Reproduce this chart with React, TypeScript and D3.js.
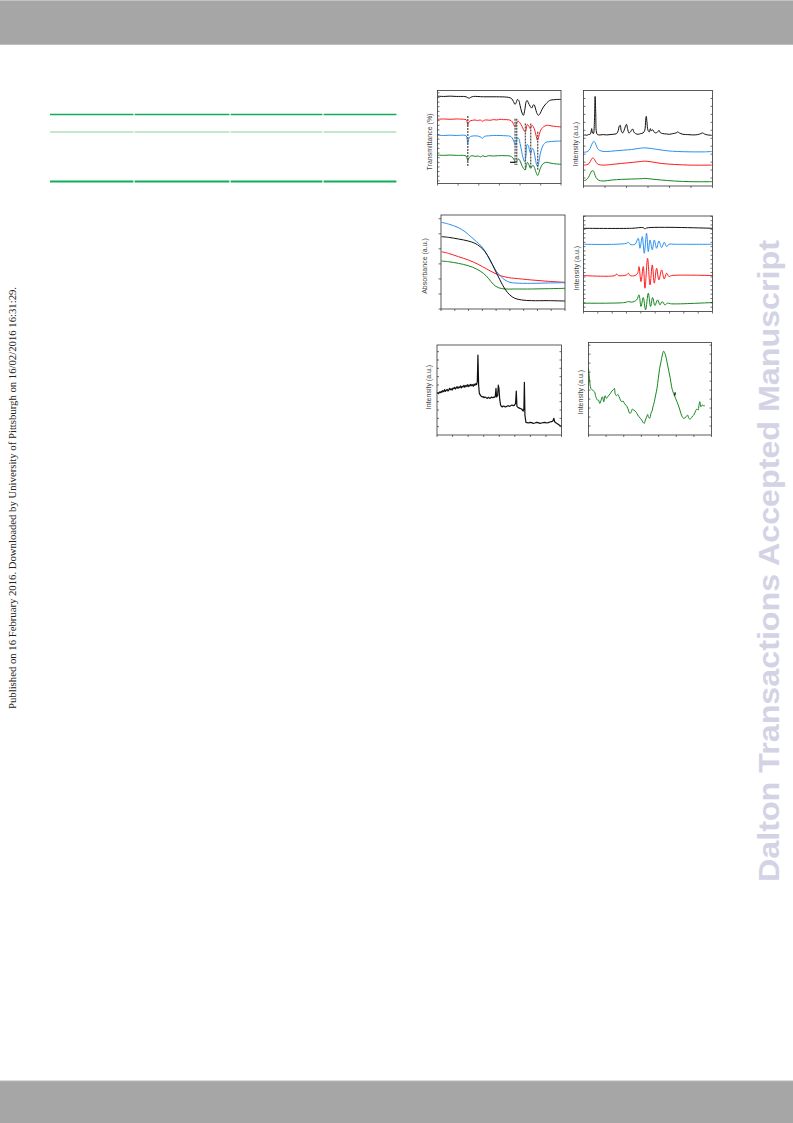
import React, { useRef, useEffect } from 'react';
import * as d3 from 'd3';

type Pt = [number, number];

// ---- panel a: FTIR (wavenumber cm-1, transmittance a.u.)
const irBlack: Pt[] = [
  [4000, 264], [3820, 263], [3620, 264], [3420, 263], [3220, 263], [3140, 262], [3090, 259], [3040, 258],
  [2990, 261], [2920, 263], [2620, 262], [2220, 262], [1920, 261], [1820, 259], [1770, 256], [1720, 248],
  [1670, 239], [1630, 246], [1600, 254], [1560, 251], [1520, 236], [1470, 216], [1420, 206], [1380, 221],
  [1340, 246], [1310, 251], [1270, 244], [1220, 234], [1170, 228], [1130, 236], [1100, 238], [1060, 228],
  [1020, 214], [970, 206], [920, 211], [860, 224], [800, 234], [740, 241], [670, 248], [600, 252],
  [520, 253], [420, 254], [290, 254],
];
const irRed: Pt[] = [
  [4000, 194], [3820, 195], [3620, 194], [3420, 195], [3220, 194], [3140, 193], [3110, 186], [3090, 176],
  [3070, 182], [3040, 188], [3000, 190], [2940, 191], [2870, 192], [2800, 190], [2720, 192], [2640, 188],
  [2600, 191], [2520, 192], [2420, 191], [2320, 193], [2220, 192], [2120, 194], [2020, 193], [1920, 193],
  [1840, 192], [1790, 190], [1750, 186], [1710, 178], [1670, 171], [1640, 178], [1610, 186], [1570, 188],
  [1530, 184], [1490, 178], [1440, 168], [1390, 158], [1360, 156], [1330, 168], [1300, 178], [1260, 174],
  [1220, 166], [1190, 170], [1160, 176], [1120, 171], [1080, 161], [1040, 146], [1000, 131], [960, 141],
  [920, 156], [870, 166], [820, 171], [770, 174], [700, 176], [620, 175], [520, 173], [420, 172], [290, 171],
];
const irBlue: Pt[] = [
  [4000, 146], [3820, 145], [3620, 146], [3420, 145], [3220, 146], [3140, 144], [3110, 134], [3090, 121],
  [3070, 130], [3040, 140], [2970, 143], [2870, 144], [2770, 143], [2700, 140], [2650, 136], [2620, 140],
  [2570, 143], [2470, 144], [2320, 145], [2120, 145], [1920, 144], [1820, 143], [1760, 138], [1710, 128],
  [1660, 116], [1630, 126], [1600, 138], [1560, 136], [1520, 121], [1470, 96], [1420, 74], [1380, 66],
  [1340, 86], [1310, 118], [1270, 114], [1230, 98], [1200, 91], [1170, 101], [1140, 106], [1100, 96],
  [1060, 74], [1020, 56], [990, 51], [950, 68], [910, 91], [860, 108], [810, 118], [750, 124], [670, 126],
  [570, 127], [420, 128], [290, 128],
];
const irGreen: Pt[] = [
  [4000, 86], [3820, 85], [3620, 86], [3420, 85], [3220, 85], [3140, 83], [3110, 76], [3090, 68],
  [3070, 74], [3030, 81], [2970, 84], [2870, 82], [2770, 83], [2700, 80], [2640, 84], [2570, 81],
  [2470, 84], [2320, 83], [2170, 84], [1970, 84], [1820, 83], [1740, 78], [1690, 70], [1640, 64],
  [1600, 71], [1560, 74], [1520, 68], [1470, 56], [1420, 46], [1370, 41], [1330, 54], [1300, 64],
  [1260, 58], [1220, 48], [1190, 46], [1160, 53], [1120, 54], [1080, 46], [1040, 34], [990, 24],
  [950, 34], [910, 46], [860, 56], [800, 62], [720, 64], [620, 62], [520, 60], [420, 59], [290, 58],
];
// guide lines: wavenumber, from, to
const irGuides: [number, number, number][] = [
  [3090, 204, 51], [1670, 196, 56], [1620, 196, 56], [1360, 181, 41], [1200, 181, 46], [990, 156, 41],
];
const irArrow: Pt[] = [[1820, 64], [1660, 64]];
const irTicks = [4000, 3380, 2760, 2140, 1520, 900, 290];

// ---- panel b: XRD (2theta, intensity)
const xrdBlack: Pt[] = [
  [5.0, 153], [5.8, 154], [6.5, 153], [7.3, 155], [8.1, 156], [8.5, 163], [8.8, 173], [9.2, 160], [9.6, 158],
  [10.1, 198], [10.4, 270], [10.7, 218], [11.0, 163], [11.5, 155], [12.7, 154], [14.2, 155], [15.8, 154],
  [17.3, 155], [18.8, 156], [20.4, 158], [21.2, 168], [21.6, 180], [22.1, 183], [22.5, 168], [23.2, 160],
  [23.9, 168], [24.5, 180], [25.0, 186], [25.5, 173], [26.1, 160], [26.7, 162], [27.3, 168], [27.9, 172],
  [28.4, 163], [29.2, 158], [30.4, 156], [31.6, 158], [32.7, 160], [33.5, 168], [33.9, 198], [34.2, 210],
  [34.5, 193], [35.0, 168], [35.6, 163], [36.1, 173], [36.5, 166], [37.2, 170], [37.8, 163], [38.5, 160],
  [39.5, 163], [40.1, 168], [40.7, 161], [41.9, 158], [43.5, 157], [45.0, 156], [46.5, 158], [48.1, 160],
  [48.8, 163], [49.6, 160], [51.2, 156], [53.5, 155], [55.8, 154], [58.1, 155], [59.6, 158], [60.4, 160],
  [61.2, 157], [62.7, 154], [64.7, 153],
];
const xrdBlue: Pt[] = [
  [5.0, 102], [6.5, 103], [7.6, 108], [8.5, 120], [9.2, 130], [9.8, 135], [10.4, 130], [11.2, 118], [11.9, 110],
  [13.5, 105], [15.8, 104], [19.6, 106], [23.5, 108], [27.3, 110], [30.4, 113], [33.5, 115], [36.5, 113],
  [39.6, 110], [44.2, 106], [48.8, 104], [55.0, 103], [61.2, 103], [64.7, 104],
];
const xrdRed: Pt[] = [
  [5.0, 63], [6.5, 64], [7.6, 68], [8.5, 78], [9.3, 85], [10.1, 80], [11.0, 70], [11.9, 65], [14.2, 63],
  [19.6, 66], [25.8, 70], [30.4, 73], [33.5, 75], [36.5, 73], [41.2, 68], [47.3, 65], [55.0, 63], [64.7, 63],
];
const xrdGreen: Pt[] = [
  [5.0, 16], [6.2, 18], [7.3, 26], [8.2, 38], [8.8, 45], [9.5, 46], [10.1, 38], [10.8, 26], [11.9, 18],
  [14.2, 15], [18.1, 18], [22.7, 20], [27.3, 21], [31.9, 22], [33.5, 23], [36.5, 21], [41.2, 18], [47.3, 15],
  [55.0, 13], [64.7, 13],
];
const xrdTicks = [5, 15, 25, 35, 45, 55, 65];

// ---- panel c: UV-vis (nm, absorbance)
const uvBlue: Pt[] = [
  [252, 1.152], [277, 1.13], [313, 1.082], [337, 1.028], [361, 0.953], [379, 0.896], [398, 0.829], [416, 0.727],
  [434, 0.608], [452, 0.496], [468, 0.43], [482, 0.386], [500, 0.355], [518, 0.346], [579, 0.341], [639, 0.346],
  [700, 0.35],
];
const uvBlack: Pt[] = [
  [252, 0.962], [277, 0.953], [313, 0.931], [349, 0.904], [373, 0.874], [392, 0.829], [410, 0.762], [428, 0.652],
  [446, 0.519], [464, 0.386], [482, 0.266], [500, 0.186], [518, 0.142], [543, 0.12], [579, 0.111], [639, 0.111],
  [700, 0.106],
];
const uvRed: Pt[] = [
  [252, 0.762], [277, 0.74], [313, 0.696], [349, 0.652], [385, 0.594], [416, 0.532], [446, 0.474], [470, 0.439],
  [495, 0.417], [518, 0.408], [579, 0.386], [639, 0.368], [700, 0.355],
];
const uvGreen: Pt[] = [
  [252, 0.638], [277, 0.629], [313, 0.607], [349, 0.576], [379, 0.532], [404, 0.474], [422, 0.408], [440, 0.328],
  [458, 0.284], [482, 0.266], [518, 0.266], [579, 0.266], [639, 0.27], [700, 0.275],
];
const uvTicks = [250, 300, 350, 400, 450, 500, 550, 600, 650, 700];
const uvYTicks = [0, 0.2, 0.4, 0.6, 0.8, 1.0, 1.2];

// ---- panel d: EPR (field G, intensity)
const eprBlack: Pt[] = [[2800, 250], [3136, 250], [3217, 252], [3229, 248], [3240, 251], [3700, 250]];
const eprBlue: Pt[] = [
  [2800, 202], [3020, 202], [3101, 205], [3113, 208], [3125, 202], [3159, 202], [3182, 220], [3194, 190],
  [3210, 225], [3224, 175], [3240, 235], [3252, 180], [3264, 215], [3280, 185], [3294, 215], [3310, 190],
  [3326, 212], [3345, 192], [3363, 208], [3380, 195], [3396, 202], [3437, 202], [3700, 202],
];
const eprRed: Pt[] = [
  [2800, 108], [3020, 108], [3032, 113], [3043, 108], [3101, 110], [3113, 115], [3125, 108], [3159, 108],
  [3178, 115], [3187, 135], [3201, 90], [3217, 135], [3229, 70], [3247, 160], [3264, 80], [3280, 140],
  [3294, 85], [3310, 130], [3326, 95], [3345, 125], [3363, 98], [3380, 115], [3396, 105], [3414, 108],
  [3700, 108],
];
const eprGreen: Pt[] = [
  [2800, 25], [3090, 27], [3113, 30], [3136, 28], [3171, 35], [3187, 50], [3201, 15], [3217, 42], [3233, 5],
  [3252, 55], [3268, 15], [3282, 42], [3298, 18], [3317, 35], [3333, 20], [3349, 30], [3368, 20], [3386, 25],
  [3414, 23], [3700, 27],
];
const eprTicks = [2800, 2900, 3000, 3100, 3200, 3300, 3400, 3500, 3600, 3700];

// ---- panel e: Raman (shift cm-1, intensity)
const ramanBlack: Pt[] = [
  [200, 125], [210, 127], [221, 124], [232, 129], [244, 127], [255, 131], [262, 128], [274, 133], [286, 130],
  [297, 136], [309, 131], [318, 134], [330, 137], [341, 132], [352, 135], [363, 140], [372, 136], [384, 138],
  [395, 135], [405, 141], [417, 139], [426, 143], [438, 138], [449, 142], [458, 145], [470, 140], [481, 144],
  [490, 142], [502, 147], [513, 141], [524, 146], [535, 144], [546, 149], [557, 143], [566, 148], [578, 146],
  [589, 151], [600, 145], [611, 150], [622, 147], [633, 152], [644, 148], [655, 151], [666, 146], [677, 153],
  [688, 149], [699, 154], [709, 151], [718, 160], [726, 240], [735, 150], [744, 125], [761, 118],
  [772, 116], [782, 114], [793, 115], [803, 112], [814, 114], [825, 113], [836, 111], [846, 110], [857, 113],
  [868, 112], [879, 110], [889, 111], [900, 114], [910, 113], [921, 112], [932, 114], [941, 113], [949, 116],
  [958, 140], [966, 114], [979, 118], [988, 150], [996, 140], [1005, 110], [1017, 90], [1028, 86], [1039, 84],
  [1052, 87], [1065, 86], [1077, 84], [1090, 85], [1103, 87], [1116, 88], [1129, 86], [1142, 87], [1155, 89],
  [1167, 90], [1180, 88], [1193, 89], [1210, 95], [1219, 132], [1227, 86], [1244, 82],
  [1266, 80], [1287, 78], [1308, 72], [1317, 80], [1323, 158], [1330, 60], [1343, 38], [1358, 37], [1373, 36],
  [1395, 38], [1416, 37], [1437, 35], [1458, 36], [1480, 38], [1501, 37], [1522, 35], [1544, 36], [1566, 37],
  [1587, 38], [1608, 36], [1630, 37], [1651, 39], [1672, 40], [1689, 42], [1702, 50], [1711, 40],
  [1732, 36], [1745, 34], [1758, 32], [1770, 30], [1779, 28], [1800, 27],
];
const ramanTicks = [200, 400, 600, 800, 1000, 1200, 1400, 1600, 1800];

// ---- panel f: emission (nm, intensity)
const plGreen: Pt[] = [
  [330, 200], [333, 170], [337, 140], [342, 135], [348, 130], [352, 115], [357, 105], [360, 105], [364, 95],
  [368, 105], [372, 115], [376, 100], [380, 118], [384, 110], [388, 115], [392, 120], [396, 125], [400, 132],
  [404, 135], [408, 140], [410, 125], [414, 118], [418, 122], [422, 115], [426, 105], [430, 100], [434, 102],
  [438, 95], [442, 90], [446, 85], [450, 75], [454, 65], [458, 68], [462, 78], [466, 75], [470, 72], [474, 68],
  [478, 60], [482, 55], [486, 50], [490, 45], [494, 38], [498, 35], [500, 42], [504, 52], [508, 62], [510, 55],
  [514, 50], [518, 65], [522, 75], [524, 85], [528, 100], [532, 120], [536, 140], [540, 170], [544, 200],
  [548, 220], [552, 240], [556, 252], [560, 245], [564, 230], [568, 210], [572, 190], [576, 170], [580, 145],
  [584, 130], [588, 120], [592, 110], [596, 100], [600, 90], [604, 78], [608, 65], [612, 55], [616, 50],
  [620, 52], [624, 55], [628, 60], [632, 50], [636, 48], [640, 52], [644, 58], [648, 62], [652, 72], [656, 78],
  [660, 75], [662, 88], [665, 100], [668, 85], [672, 90], [676, 88], [680, 88],
];
const plMark: Pt[] = [[589, 118], [591, 128]];
const plTicks = [330, 383, 436, 489, 541, 594, 647, 700];

const tableCols = [50, 134, 230, 323, 397];

const BLACK = '#111';
const RED = '#ff1a1a';
const BLUE = '#2a8ff0';
const GREEN = '#14861c';

interface Series { data: Pt[]; color: string; linear?: boolean; width?: number; }
interface Panel {
  box: [number, number, number, number]; // left, top, right, bottom
  xDomain: [number, number];
  yDomain: [number, number];
  xTicks: number[];
  yTicks: number[];
  yTickOut?: boolean;
  rightTicks?: boolean;
  label: string;
  labelPos: [number, number];
  series: Series[];
}

const panels: Panel[] = [
  {
    box: [437.5, 90.5, 561, 183.5], xDomain: [4000, 290], yDomain: [0, 281],
    xTicks: irTicks, yTicks: d3.range(8, 281, 14), label: 'Transmittance (%)', labelPos: [429, 142],
    series: [
      { data: irBlack, color: BLACK }, { data: irRed, color: RED },
      { data: irBlue, color: BLUE }, { data: irGreen, color: GREEN },
    ],
  },
  {
    box: [583.5, 90.5, 712.5, 186], xDomain: [5, 65], yDomain: [0, 288],
    xTicks: xrdTicks, yTicks: d3.range(24, 288, 24), rightTicks: true, label: 'Intensity (a.u.)', labelPos: [575, 144],
    series: [
      { data: xrdBlack, color: BLACK }, { data: xrdBlue, color: BLUE },
      { data: xrdRed, color: RED }, { data: xrdGreen, color: GREEN },
    ],
  },
  {
    box: [441, 215, 565, 309], xDomain: [250, 700], yDomain: [0, 1.25],
    xTicks: uvTicks, yTicks: uvYTicks, yTickOut: true, label: 'Absorbance (a.u.)', labelPos: [424, 266],
    series: [
      { data: uvRed, color: RED }, { data: uvGreen, color: GREEN },
      { data: uvBlue, color: BLUE }, { data: uvBlack, color: BLACK },
    ],
  },
  {
    box: [583.5, 216, 712.5, 311.5], xDomain: [2800, 3700], yDomain: [0, 287],
    xTicks: eprTicks, yTicks: d3.range(13, 287, 13), rightTicks: true, label: 'Intensity (a.u.)', labelPos: [576, 268],
    series: [
      { data: eprBlack, color: BLACK }, { data: eprBlue, color: BLUE },
      { data: eprRed, color: RED }, { data: eprGreen, color: GREEN },
    ],
  },
  {
    box: [437, 345, 561.5, 435], xDomain: [200, 1800], yDomain: [0, 270],
    xTicks: ramanTicks, yTicks: d3.range(25, 270, 25), rightTicks: true, label: 'Intensity (a.u.)', labelPos: [428, 387],
    series: [{ data: ramanBlack, color: BLACK, linear: true, width: 1.2 }],
  },
  {
    box: [588.5, 342.5, 711.5, 435], xDomain: [330, 700], yDomain: [0, 278],
    xTicks: plTicks, yTicks: d3.range(27, 278, 27), rightTicks: true, label: 'Intensity (a.u.)', labelPos: [580, 392],
    series: [{ data: plGreen, color: GREEN }, { data: plMark, color: BLACK, linear: true, width: 1.4 }],
  },
];

const App: React.FC = () => {
  const svgRef = useRef<SVGSVGElement | null>(null);

  useEffect(() => {
    if (!svgRef.current) return;
    const svg = d3.select(svgRef.current);
    svg.selectAll('*').remove();

    // page furniture
    svg.append('rect').attr('x', 0).attr('y', 0).attr('width', 793).attr('height', 45).attr('fill', '#a6a6a6');
    svg.append('rect').attr('x', 0).attr('y', 0).attr('width', 793).attr('height', 1).attr('fill', '#c4c4c4');
    svg.append('rect').attr('x', 0).attr('y', 44).attr('width', 793).attr('height', 1).attr('fill', '#bdbdbd');
    svg.append('rect').attr('x', 0).attr('y', 1081).attr('width', 793).attr('height', 42).attr('fill', '#a6a6a6');
    svg.append('rect').attr('x', 0).attr('y', 1080.5).attr('width', 793).attr('height', 1).attr('fill', '#b8b8b8');

    svg.append('text')
      .attr('transform', 'translate(16,498) rotate(-90)')
      .attr('text-anchor', 'middle')
      .attr('font-family', '"Liberation Serif", "DejaVu Serif", serif')
      .attr('font-size', 10)
      .attr('textLength', 422)
      .attr('lengthAdjust', 'spacingAndGlyphs')
      .attr('fill', '#222')
      .text('Published on 16 February 2016. Downloaded by University of Pittsburgh on 16/02/2016 16:31:29.');

    svg.append('text')
      .attr('transform', 'translate(778.5,561) rotate(-90)')
      .attr('text-anchor', 'middle')
      .attr('font-family', '"Liberation Sans", Arial, sans-serif')
      .attr('font-weight', 'bold')
      .attr('font-size', 30)
      .attr('textLength', 642)
      .attr('lengthAdjust', 'spacingAndGlyphs')
      .attr('fill', '#d3d3e5')
      .text('Dalton Transactions Accepted Manuscript');

    // table rules
    const rules: [number, string, number][] = [[114.5, '#0fae58', 1.7], [132, '#80d4a2', 1.1], [181.5, '#0fae58', 1.8]];
    rules.forEach(([y, c, w]) => {
      for (let i = 0; i < tableCols.length - 1; i++) {
        svg.append('line')
          .attr('x1', tableCols[i] + (i ? 0.6 : 0)).attr('x2', tableCols[i + 1] - 0.6)
          .attr('y1', y).attr('y2', y)
          .attr('stroke', c).attr('stroke-width', w);
      }
    });

    panels.forEach(p => {
      const [l, t, r, b] = p.box;
      const x = d3.scaleLinear().domain(p.xDomain).range([l, r]);
      const y = d3.scaleLinear().domain(p.yDomain).range([b, t]);
      const g = svg.append('g');

      // curves first, frame on top
      const curves = g.append('g');
      p.series.forEach(s => {
        const line = d3.line<Pt>()
          .x(d => x(d[0]))
          .y(d => y(d[1]))
          .curve(s.linear ? d3.curveLinear : d3.curveCatmullRom.alpha(0.5));
        curves.append('path')
          .attr('d', line(s.data) || '')
          .attr('fill', 'none')
          .attr('stroke', s.color)
          .attr('stroke-width', s.width || 1)
          .attr('stroke-linejoin', 'round');
      });

      if (p === panels[0]) {
        irGuides.forEach(([wn, a, c]) => {
          curves.append('line')
            .attr('x1', x(wn)).attr('x2', x(wn))
            .attr('y1', y(a)).attr('y2', y(c))
            .attr('stroke', '#555').attr('stroke-width', 1.3)
            .attr('stroke-dasharray', '2,1');
        });
        curves.append('path')
          .attr('d', d3.line<Pt>().x(d => x(d[0])).y(d => y(d[1]))(irArrow) || '')
          .attr('stroke', BLACK).attr('stroke-width', 1.2).attr('fill', 'none');
      }

      g.append('rect')
        .attr('x', l).attr('y', t).attr('width', r - l).attr('height', b - t)
        .attr('fill', 'none').attr('stroke', '#333').attr('stroke-width', 0.8);

      const tk = g.append('g').attr('stroke', '#333').attr('stroke-width', 0.7);
      p.xTicks.forEach(v => {
        tk.append('line').attr('x1', x(v)).attr('x2', x(v)).attr('y1', b).attr('y2', b + 2);
      });
      p.yTicks.forEach(v => {
        const yy = y(v);
        if (p.yTickOut) tk.append('line').attr('x1', l - 2.5).attr('x2', l).attr('y1', yy).attr('y2', yy);
        else tk.append('line').attr('x1', l).attr('x2', l + 2).attr('y1', yy).attr('y2', yy);
        if (p.rightTicks) tk.append('line').attr('x1', r - 2).attr('x2', r).attr('y1', yy).attr('y2', yy);
      });

      g.append('text')
        .attr('transform', `translate(${p.labelPos[0] + 2.5},${p.labelPos[1]}) rotate(-90)`)
        .attr('text-anchor', 'middle')
        .attr('font-family', '"Liberation Sans", Arial, sans-serif')
        .attr('font-size', 7)
        .attr('fill', '#444')
        .text(p.label);
    });
  }, []);

  return (
    <div style={{ position: 'absolute', left: 0, top: 0 }}>
      <svg ref={svgRef} width={793} height={1123} style={{ display: 'block' }}></svg>
    </div>
  );
};

export default App;
